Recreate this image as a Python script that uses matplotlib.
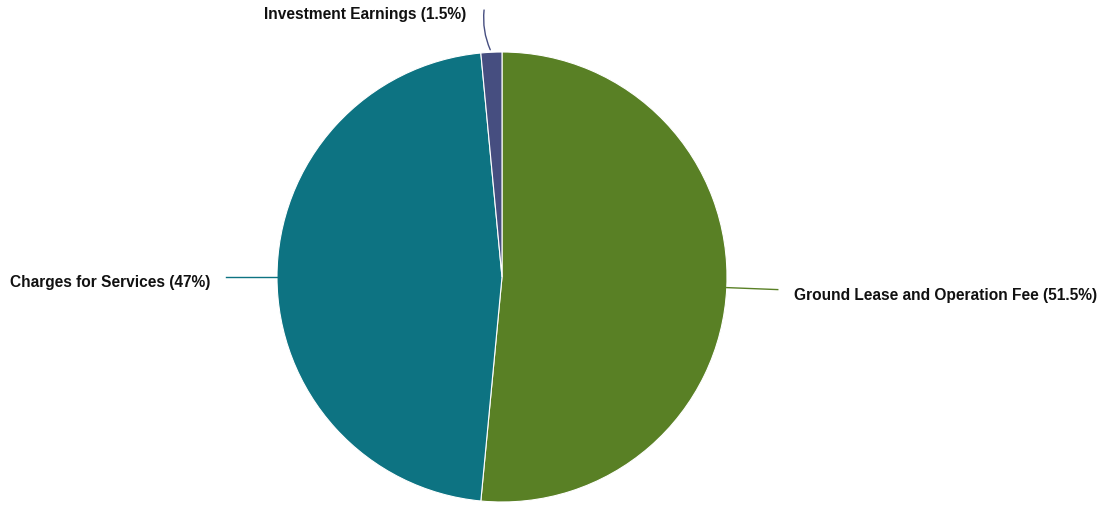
import numpy as np
import matplotlib.pyplot as plt

labels = ["Ground Lease and Operation Fee", "Charges for Services", "Investment Earnings"]
shares = [51.5, 47, 1.5]
share_text = ["51.5%", "47%", "1.5%"]
colors = ["#598025", "#0d7382", "#464e80"]

W, H = 1104, 506
cx, cy, r = 502, H - 278, 225

fig = plt.figure(figsize=(W / 100, H / 100), dpi=100)
ax = fig.add_axes([0, 0, 1, 1])
ax.set_xlim(0, W)
ax.set_ylim(0, H)
ax.set_aspect("equal")
ax.axis("off")

wedges, _ = ax.pie(shares, colors=colors, startangle=90, counterclock=False,
                   center=(cx, cy), radius=r,
                   wedgeprops=dict(edgecolor="white", linewidth=0.8))
ax.set_xlim(0, W)
ax.set_ylim(0, H)

font = dict(family=["Liberation Sans", "DejaVu Sans"], fontsize=11.2, fontweight="bold", color="#111111")

for w, lab, pct, col in zip(wedges, labels, share_text, colors):
    mid = np.deg2rad((w.theta1 + w.theta2) / 2)
    px, py = cx + r * np.cos(mid), cy + r * np.sin(mid)
    text = f"{lab} ({pct})"
    if np.cos(mid) > 0.5:
        ex, ey = px + 51, py - 2
        ax.plot([px, ex], [py, ey], color=col, lw=1)
        ax.text(ex + 16, ey - 5, text, ha="left", va="center", **font)
    elif np.cos(mid) < -0.5:
        ex, ey = px - 51, py
        ax.plot([px, ex], [py, ey], color=col, lw=1)
        ax.text(ex - 16, ey - 5, text, ha="right", va="center", **font)
    else:
        ex, ey = px - 7, py + 45
        ax.annotate("", xy=(ex, ey), xytext=(px, py),
                    arrowprops=dict(arrowstyle="-", color=col, lw=1,
                                    connectionstyle="arc3,rad=-0.15"))
        ax.text(ex - 18, ey - 6, text, ha="right", va="center", **font)

fig.savefig("out.png", dpi=100, facecolor="white")
